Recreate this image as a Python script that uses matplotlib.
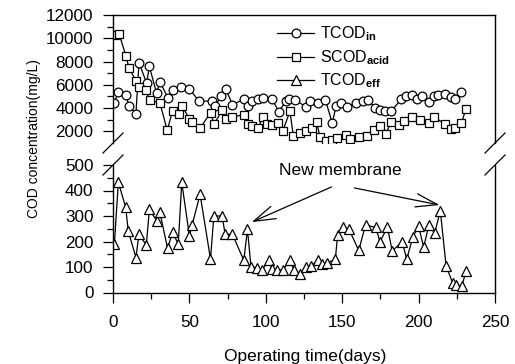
import matplotlib
matplotlib.use("Agg")
import matplotlib.pyplot as plt
from matplotlib.ticker import FixedLocator, NullLocator

plt.rcParams['font.family'] = ['Liberation Sans', 'DejaVu Sans']
plt.rcParams['mathtext.fontset'] = 'custom'
plt.rcParams['mathtext.rm'] = 'Liberation Sans'
plt.rcParams['mathtext.bf'] = 'Liberation Sans:bold'

# ---------------- data ----------------
days_in = [0.6, 3.5, 8.3, 10.5, 15, 17, 22, 23.8, 28.5, 30.7, 36, 39, 44.4, 49.9, 56.4,
           64.5, 66.5, 71, 73.9, 78.2, 86, 88.3, 91, 95, 98, 104, 108.5, 113, 115, 119,
           126, 129, 134, 139, 143.5, 146, 149, 153, 159, 163.5, 167, 171.5, 174.5, 178,
           182, 188.5, 191.5, 196, 199, 202, 206.5, 210, 213, 217.5, 221, 224, 227.5]
tcod_in = [4400, 5350, 5150, 4200, 3500, 7900, 6150, 7580, 5300, 6270, 4850, 5550, 5830, 5650, 4600,
           4600, 4200, 5000, 5600, 4300, 4780, 4150, 4650, 4800, 4900, 4780, 3700, 4570, 4780, 4720,
           4130, 4570, 4480, 4720, 2700, 4200, 4480, 4060, 4480, 4580, 4720, 4000, 3860, 3780,
           3720, 4740, 5060, 5150, 4780, 5000, 4520, 5060, 5120, 5180, 4950, 4790, 5400]

days_acid = [2, 4, 8.5, 10.5, 15, 17, 21.5, 24, 30.7, 35.5, 39, 43, 45, 50, 51.5, 57, 64, 66,
             71.5, 73.8, 78.2, 86, 88.5, 90.7, 95, 98, 101, 104, 108, 111, 115.8, 118, 122.5,
             126.3, 130, 133.3, 135.5, 139.5, 143, 146.3, 152.3, 155.3, 161, 166, 171, 174.7,
             178.5, 182, 187, 190.5, 195.5, 200.7, 207, 210, 217, 221, 224, 228, 231]
scod_acid = [10250, 10400, 8450, 7450, 6350, 5830, 5540, 4690, 4430, 2100, 3750, 3530, 4200, 3100,
             2780, 2290, 3620, 2620, 3800, 3030, 3240, 3440, 2590, 2440, 2290, 3230, 2640, 2550,
             2700, 2000, 3730, 1640, 1830, 2000, 2290, 2770, 1500, 1180, 1300, 1430, 1650, 1370,
             1550, 1630, 2150, 2450, 1800, 2770, 2570, 2850, 3230, 2940, 2750, 3230, 2660, 2200,
             2300, 2717, 3920]

days_eff = [0.9, 3.5, 8.3, 10, 15, 17, 21.8, 23.8, 28.5, 30.7, 35.7, 39, 42.7, 45, 50, 51.8, 57,
            63.8, 66, 71.4, 73.4, 78.2, 85.6, 88, 90.3, 94.5, 97.6, 102, 104, 107.6, 111.3,
            115.7, 118.5, 122.7, 126, 129.9, 134.2, 136.8, 140.3, 145.5, 147, 150.5, 154.3,
            160.8, 165.3, 172, 174.7, 179.6, 182.7, 189.3, 192.2, 196.3, 200, 203.3, 206.7,
            210.5, 214.2, 218, 222.4, 224.6, 228.2, 231.1]
tcod_eff = [190, 432, 334, 241, 137, 229, 186, 326, 282, 314, 173, 236, 190, 432, 222, 265, 385,
            131, 300, 300, 228, 228, 126, 248, 100, 97, 88, 127, 92, 88, 88,
            126, 88, 74, 100, 105, 127, 112, 117, 130, 225, 255, 250,
            165, 265, 255, 199, 256, 163, 199, 130, 219, 261, 177, 265,
            232, 321, 104, 36, 30, 24, 84]

x_ticks = [0, 50, 100, 150, 200, 250]
upper_ticks = [2000, 4000, 6000, 8000, 10000, 12000]
lower_ticks = [0, 100, 200, 300, 400, 500]

# ---------------- figure ----------------
W, H = 515, 364
fig = plt.figure(figsize=(W / 100, H / 100), dpi=100)
L, R = 113 / W, 495 / W
ax1 = fig.add_axes([L, 1 - 143 / H, R - L, (143 - 15) / H])
ax2 = fig.add_axes([L, 1 - 292.5 / H, R - L, (292.5 - 165) / H])

mk = dict(color='black', lw=0.9, mfc='white', mec='black', mew=0.9)
ax1.plot(days_in, tcod_in, marker='o', ms=6.3, label='TCOD$_{\\mathbf{in}}$', **mk)
ax1.plot(days_acid, scod_acid, marker='s', ms=5.8, label='SCOD$_{\\mathbf{acid}}$', **mk)
ax1.plot([], [], marker='^', ms=6.5, label='TCOD$_{\\mathbf{eff}}$', **mk)
ax2.plot(days_eff, tcod_eff, marker='^', ms=6.5, **mk)

for ax in (ax1, ax2):
    ax.set_xlim(0, 250)
    for s in ax.spines.values():
        s.set_linewidth(1.0)
    ax.tick_params(axis='both', which='major', direction='out', length=7.5, width=0.9,
                   labelsize=12.3, pad=6.5)
    ax.tick_params(axis='both', which='minor', direction='out', length=4, width=0.9)

ax1.set_ylim(1000, 12000)
ax1.yaxis.set_major_locator(FixedLocator(upper_ticks))
ax1.yaxis.set_minor_locator(FixedLocator([3000, 5000, 7000, 9000, 11000]))
ax1.spines['bottom'].set_visible(False)
ax1.xaxis.set_major_locator(NullLocator())
ax1.xaxis.set_minor_locator(NullLocator())

ax2.set_ylim(0, 500)
ax2.yaxis.set_major_locator(FixedLocator(lower_ticks))
ax2.yaxis.set_minor_locator(FixedLocator([50, 150, 250, 350, 450]))
ax2.xaxis.set_major_locator(FixedLocator(x_ticks))
ax2.xaxis.set_minor_locator(FixedLocator([25, 75, 125, 175, 225]))
ax2.spines['top'].set_visible(False)
ax2.tick_params(axis='x', which='major', pad=8.5)

leg = ax1.legend(loc='upper left', bbox_to_anchor=(0.43, 0.925), frameon=False,
                 fontsize=11.5, handlelength=2.3, handletextpad=0.4, labelspacing=0.3,
                 borderpad=0, borderaxespad=0)

# axis break marks
def brk(ax, xs, yfrac, hpx):
    dx, dy = 10 / (R - L) / W, 10 / hpx
    for xf in xs:
        ax.plot([xf - dx, xf + dx], [yfrac - dy, yfrac + dy], color='black', lw=0.9,
                transform=ax.transAxes, clip_on=False)

brk(ax1, [0, 1], 0, 128)
brk(ax2, [0, 1], 1, 127.5)

# annotation
ax2.text(148.5, 478, 'New membrane', ha='center', va='center', fontsize=12.5)
ap = dict(arrowstyle='->,head_length=1.3,head_width=0.4', lw=0.9, color='black',
          shrinkA=0, shrinkB=0, mutation_scale=12)
ax2.annotate('', xy=(90.8, 276), xytext=(143, 414), arrowprops=ap)
ax2.annotate('', xy=(213.7, 343), xytext=(158, 410), arrowprops=ap)

fig.text(305 / W, 1 - 357 / H, 'Operating time(days)', ha='center', va='center', fontsize=12.5)
fig.text(34 / W, 1 - 139 / H, 'COD concentration(mg/L)', ha='center', va='center',
         rotation=90, fontsize=10)

fig.savefig('out.png', dpi=100)
